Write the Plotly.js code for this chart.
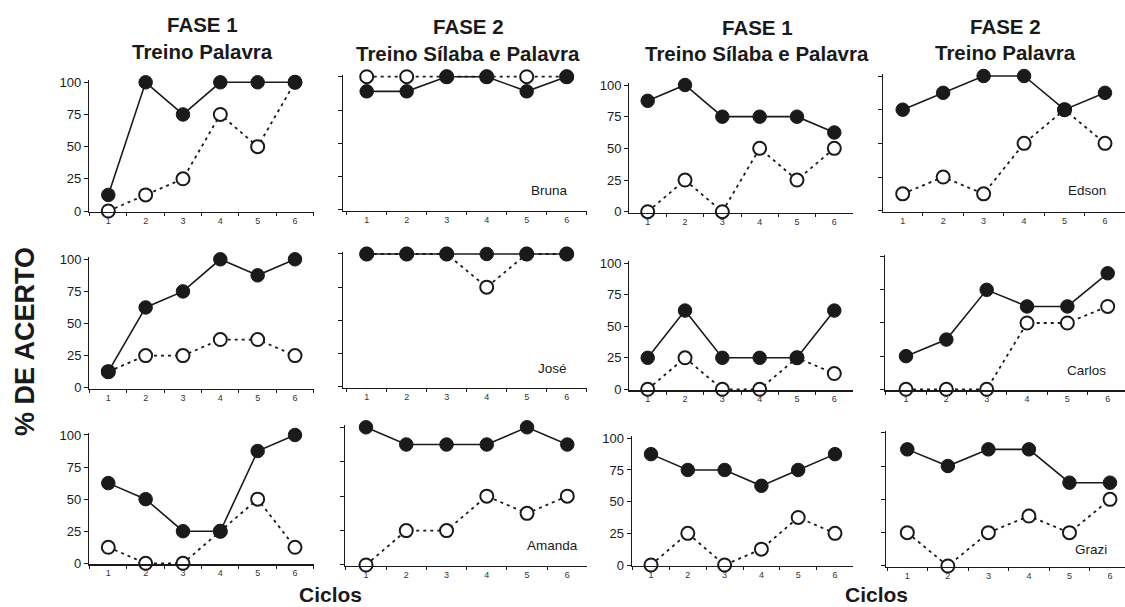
<!DOCTYPE html>
<html>
<head>
<meta charset="utf-8">
<script src="https://cdn.plot.ly/plotly-3.0.1.min.js"></script>
<style>html,body{margin:0;padding:0;background:#fff;}#chart{width:1125px;height:607px;}</style>
</head>
<body>
<div id="chart"></div>
<script>
// ---- data ----
const categories = ['1', '2', '3', '4', '5', '6'];
const yTickVals = [0, 25, 50, 75, 100];
const yTickText = ['0', '25', '50', '75', '100'];

// Row 1
const r1c1Filled = [12.5, 100, 75, 100, 100, 100];
const r1c1Open   = [0, 12.5, 25, 75, 50, 100];
const r1c2Filled = [89, 89, 100, 100, 89, 100];   // Bruna
const r1c2Open   = [100, 100, 100, 100, 100, 100];
const r1c3Filled = [87.5, 100, 75, 75, 75, 62.5];
const r1c3Open   = [0, 25, 0, 50, 25, 50];
const r1c4Filled = [75, 87.5, 100, 100, 75, 87.5]; // Edson
const r1c4Open   = [12.5, 25, 12.5, 50, 75, 50];
// Row 2
const r2c1Filled = [12.5, 62.5, 75, 100, 87.5, 100];
const r2c1Open   = [12.5, 25, 25, 37.5, 37.5, 25];
const r2c2Filled = [100, 100, 100, 100, 100, 100]; // José
const r2c2Open   = [100, 100, 100, 75, 100, 100];
const r2c3Filled = [25, 62.5, 25, 25, 25, 62.5];
const r2c3Open   = [0, 25, 0, 0, 25, 12.5];
const r2c4Filled = [25, 37.5, 75, 62.5, 62.5, 87.5]; // Carlos
const r2c4Open   = [0, 0, 0, 50, 50, 62.5];
// Row 3
const r3c1Filled = [62.5, 50, 25, 25, 87.5, 100];
const r3c1Open   = [12.5, 0, 0, 25, 50, 12.5];
const r3c2Filled = [100, 87.5, 87.5, 87.5, 100, 87.5]; // Amanda
const r3c2Open   = [0, 25, 25, 50, 37.5, 50];
const r3c3Filled = [87.5, 75, 75, 62.5, 75, 87.5];
const r3c3Open   = [0, 25, 0, 12.5, 37.5, 25];
const r3c4Filled = [87.5, 75, 87.5, 87.5, 62.5, 62.5]; // Grazi
const r3c4Open   = [25, 0, 25, 37.5, 25, 50];

const columnTitles1 = ['FASE 1', 'FASE 2', 'FASE 1', 'FASE 2'];
const columnTitles2 = ['Treino Palavra', 'Treino Sílaba e Palavra', 'Treino Sílaba e Palavra', 'Treino Palavra'];
const participantNames = ['Bruna', 'Edson', 'José', 'Carlos', 'Amanda', 'Grazi'];
const yTitle = '% DE ACERTO';
const xTitle = 'Ciclos';

const seriesFilled = [r1c1Filled, r1c2Filled, r1c3Filled, r1c4Filled,
                      r2c1Filled, r2c2Filled, r2c3Filled, r2c4Filled,
                      r3c1Filled, r3c2Filled, r3c3Filled, r3c4Filled];
const seriesOpen = [r1c1Open, r1c2Open, r1c3Open, r1c4Open,
                    r2c1Open, r2c2Open, r2c3Open, r2c4Open,
                    r3c1Open, r3c2Open, r3c3Open, r3c4Open];

// ---- geometry (pixels) ----
const W = 1125, H = 607;
const panelGeom = [
  {ax: 89,    c1: 108.3, c6: 295,    y0: 211,   y100: 82.3,  labels: true},
  {ax: 343.3, c1: 366.7, c6: 566.7,  y0: 210,   y100: 76.7,  labels: false},
  {ax: 629.3, c1: 647.7, c6: 834.3,  y0: 211.7, y100: 85,    labels: true},
  {ax: 882.7, c1: 902.7, c6: 1105,   y0: 210.7, y100: 76,    labels: false},
  {ax: 89.3,  c1: 108.3, c6: 295,    y0: 387.7, y100: 259.3, labels: true},
  {ax: 343.3, c1: 366.7, c6: 566.7,  y0: 386.7, y100: 254,   labels: false},
  {ax: 629.3, c1: 647.7, c6: 834.3,  y0: 389.3, y100: 263.3, labels: true},
  {ax: 885,   c1: 906,   c6: 1107.7, y0: 389.3, y100: 256.7, labels: false},
  {ax: 89,    c1: 108.3, c6: 295,    y0: 563.3, y100: 435,   labels: true},
  {ax: 345,   c1: 366,   c6: 567.3,  y0: 565,   y100: 427.3, labels: false},
  {ax: 631.7, c1: 651,   c6: 835,    y0: 565,   y100: 438.3, labels: true},
  {ax: 886,   c1: 907.3, c6: 1110,   y0: 566,   y100: 432.7, labels: false}
];
const yPadLo = 0.8, yPadHi = 1.6; // small value padding so lines at 0/100 are not clipped

const FONT = 'Liberation Sans, Arial, Helvetica, sans-serif';
const INK = '#1a1a1a';
const traces = [];
const layout = {
  width: W, height: H,
  margin: {l: 0, r: 0, t: 0, b: 0},
  paper_bgcolor: '#ffffff', plot_bgcolor: 'rgba(0,0,0,0)',
  showlegend: false,
  font: {family: FONT, color: INK},
  annotations: []
};

panelGeom.forEach((g, i) => {
  const n = i + 1;
  const xa = n === 1 ? 'x' : 'x' + n;
  const ya = n === 1 ? 'y' : 'y' + n;
  const sp = (g.c6 - g.c1) / 5;
  const leftB = g.c1 - sp / 2;
  const rightB = g.c6 + sp / 2;
  const xr0 = -0.5 - (leftB - g.ax) / sp;
  const pxPerUnit = (g.y0 - g.y100) / 100;
  const yBot = g.y0 + yPadLo * pxPerUnit;
  const yTop = g.y100 - yPadHi * pxPerUnit;
  layout['xaxis' + (n === 1 ? '' : n)] = {
    domain: [g.ax / W, Math.min(1, rightB / W)],
    range: [xr0, 5.5 - Math.max(0, (rightB - W)) / sp],
    type: 'category', anchor: ya,
    tickson: 'boundaries', ticks: 'outside', ticklen: 3, tickwidth: 1, tickcolor: INK,
    showline: true, linecolor: INK, linewidth: 1.2,
    showgrid: false, zeroline: false,
    tickfont: {family: FONT, size: 9, color: '#333'},
    fixedrange: true
  };
  layout['yaxis' + (n === 1 ? '' : n)] = {
    domain: [1 - yBot / H, 1 - yTop / H],
    range: [-yPadLo, 100 + yPadHi], anchor: xa,
    tickmode: 'array', tickvals: yTickVals, ticktext: yTickText,
    showticklabels: g.labels,
    ticks: 'outside', ticklen: 4, tickwidth: 1, tickcolor: INK,
    showline: true, linecolor: INK, linewidth: 1.2,
    showgrid: false, zeroline: false,
    tickfont: {family: FONT, size: 13, color: INK},
    fixedrange: true
  };
  traces.push({
    type: 'scatter', mode: 'lines+markers', x: categories, y: seriesOpen[i],
    xaxis: xa, yaxis: ya, cliponaxis: false,
    line: {color: INK, width: 1.8, dash: '3px,4px'},
    marker: {symbol: 'circle', size: 13, color: '#ffffff', line: {color: INK, width: 2}}
  });
  traces.push({
    type: 'scatter', mode: 'lines+markers', x: categories, y: seriesFilled[i],
    xaxis: xa, yaxis: ya, cliponaxis: false,
    line: {color: INK, width: 1.6},
    marker: {symbol: 'circle', size: 13.5, color: INK, line: {color: INK, width: 1}}
  });
});

// ---- text ----
const titleCenters = [202, 468, 757, 1005.5];
const titleY1 = [24.5, 26.5, 27.5, 26.5];
const titleY2 = [51.5, 53, 53.5, 52.5];
titleCenters.forEach((cx, i) => {
  layout.annotations.push({
    xref: 'paper', yref: 'paper', x: cx / W, y: 1 - titleY1[i] / H,
    xanchor: 'center', yanchor: 'middle', showarrow: false,
    text: '<b>' + columnTitles1[i] + '</b>', font: {family: FONT, size: 20.5, color: INK}
  });
  layout.annotations.push({
    xref: 'paper', yref: 'paper', x: cx / W, y: 1 - titleY2[i] / H,
    xanchor: 'center', yanchor: 'middle', showarrow: false,
    text: '<b>' + columnTitles2[i] + '</b>', font: {family: FONT, size: 20.5, color: INK}
  });
});

const namePos = [[570, 190], [1108, 191], [569.3, 368.3], [1108.3, 370.7], [580, 545], [1109.3, 549]];
participantNames.forEach((nm, i) => {
  layout.annotations.push({
    xref: 'paper', yref: 'paper', x: namePos[i][0] / W, y: 1 - namePos[i][1] / H,
    xanchor: 'right', yanchor: 'middle', showarrow: false,
    text: nm, font: {family: FONT, size: 13.5, color: INK}
  });
});

layout.annotations.push({
  xref: 'paper', yref: 'paper', x: 25 / W, y: 1 - 342 / H,
  xanchor: 'center', yanchor: 'middle', showarrow: false, textangle: -90,
  text: '<b>' + yTitle + '</b>', font: {family: FONT, size: 27, color: INK}
});
[[330.5, 594], [876.7, 594.5]].forEach(p => {
  layout.annotations.push({
    xref: 'paper', yref: 'paper', x: p[0] / W, y: 1 - p[1] / H,
    xanchor: 'center', yanchor: 'middle', showarrow: false,
    text: '<b>' + xTitle + '</b>', font: {family: FONT, size: 21, color: INK}
  });
});

Plotly.newPlot('chart', traces, layout, {staticPlot: true, displayModeBar: false});
</script>
</body>
</html>
